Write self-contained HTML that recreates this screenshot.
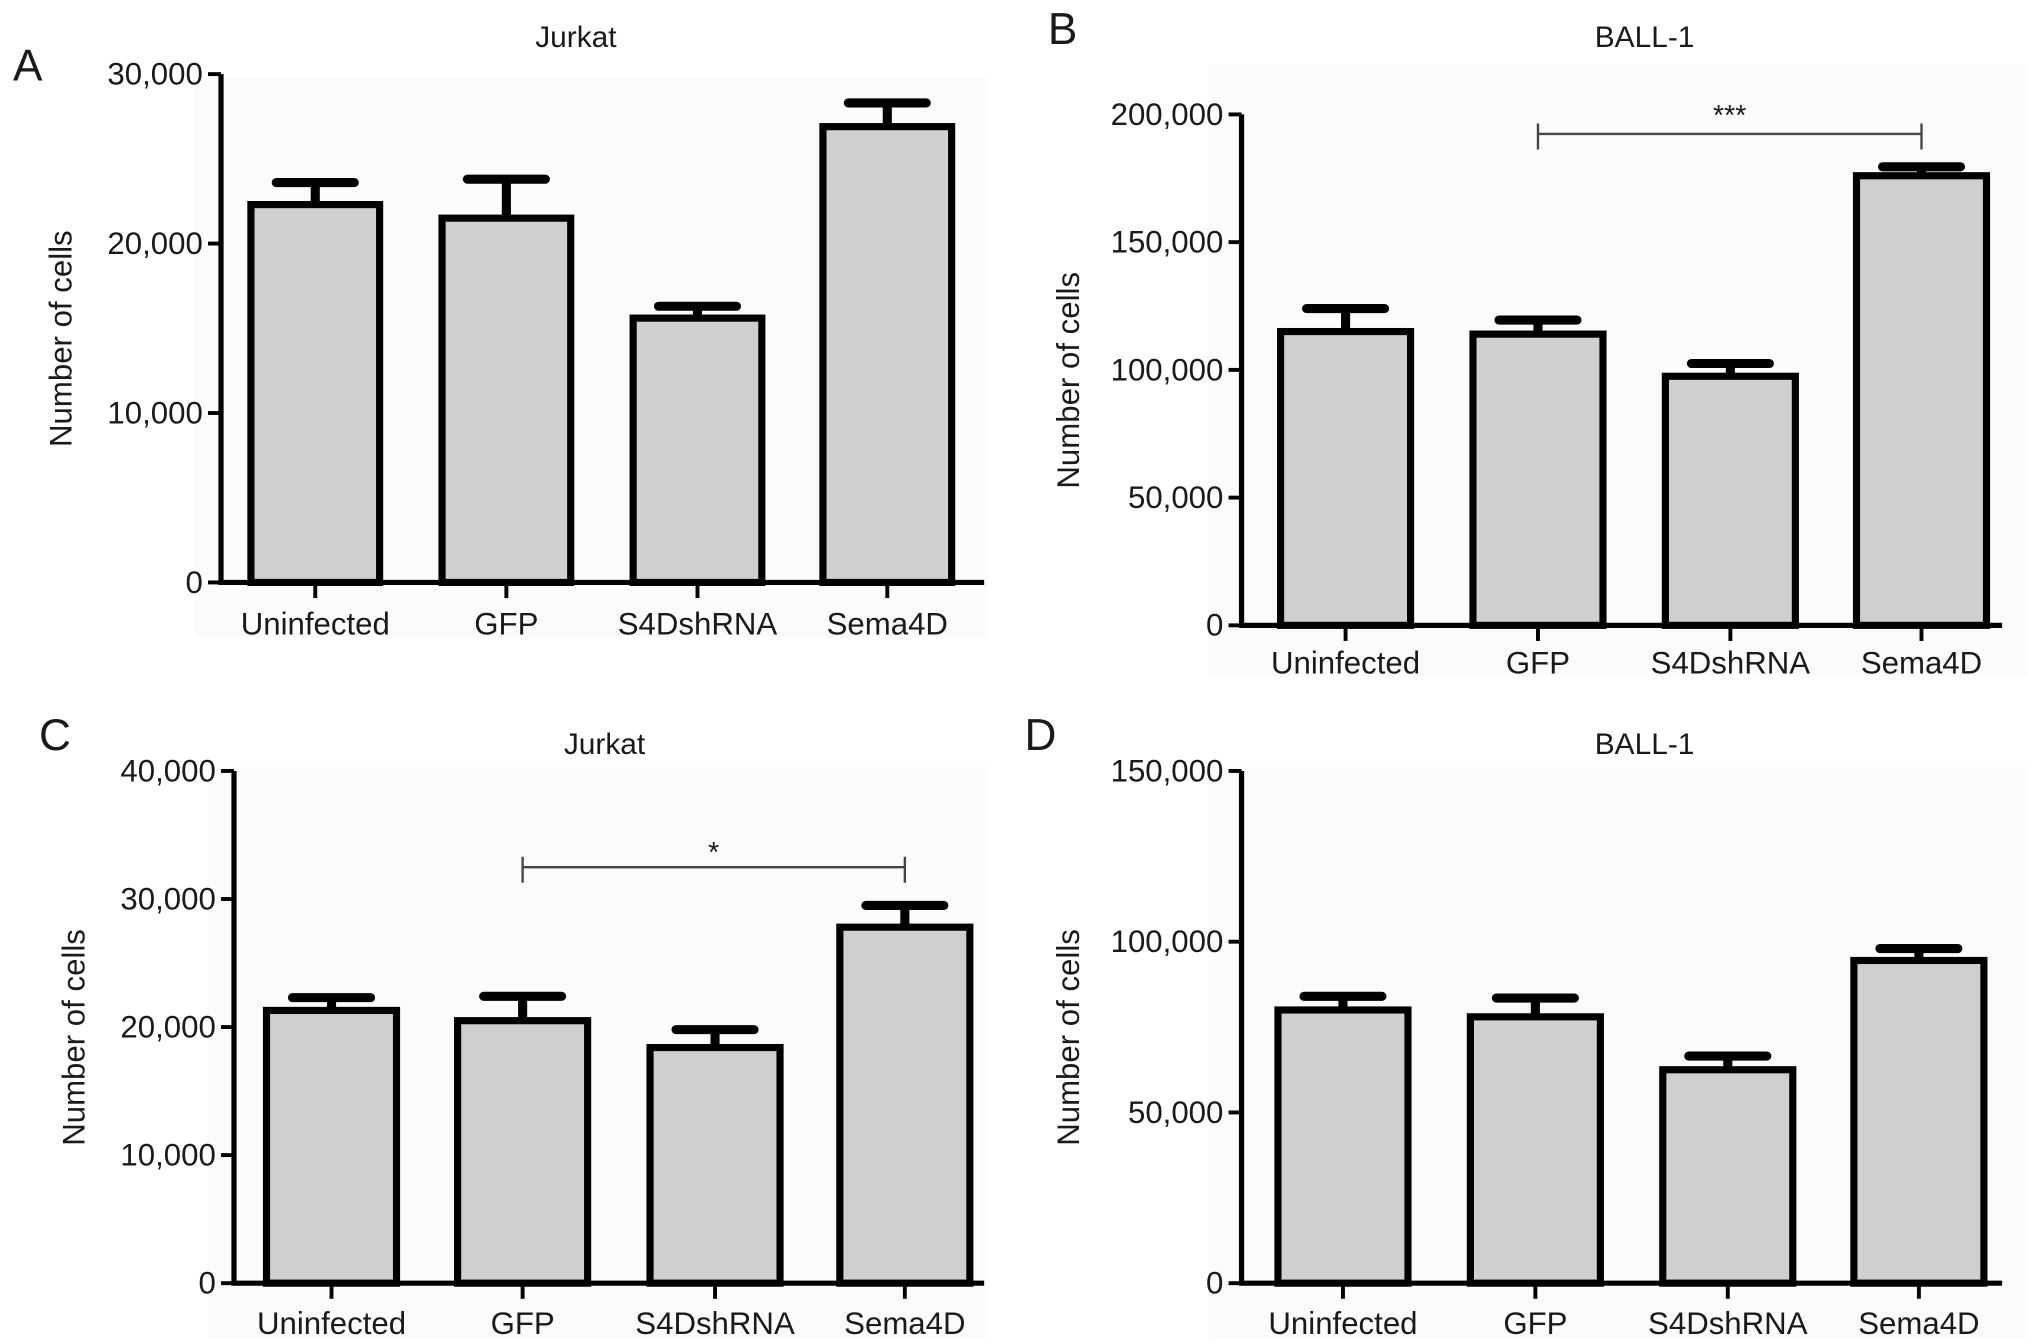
<!DOCTYPE html>
<html><head><meta charset="utf-8"><style>
html,body{margin:0;padding:0;background:#fff;width:2032px;height:1343px;overflow:hidden}
svg{display:block}
text{font-family:"Liberation Sans",Arial,sans-serif;fill:#1a1a1a}
</style></head><body>
<svg id="fig" width="2032" height="1343" viewBox="0 0 1563 1033" xmlns="http://www.w3.org/2000/svg"></svg>
<script>
const categories = ["Uninfected","GFP","S4DshRNA","Sema4D"];
const valuesA = [22300,21500,15600,26900];
const errorsA = [23600,23800,16300,28300];
const ticksA = [0,10000,20000,30000];
const valuesB = [115000,114000,97500,176000];
const errorsB = [124000,119500,102500,179500];
const ticksB = [0,50000,100000,150000,200000];
const valuesC = [21300,20500,18400,27800];
const errorsC = [22300,22400,19800,29500];
const ticksC = [0,10000,20000,30000,40000];
const valuesD = [80000,78000,62500,94500];
const errorsD = [84000,83500,66500,98000];
const ticksD = [0,50000,100000,150000];

const NS="http://www.w3.org/2000/svg";
const svg=document.getElementById('fig');
function mk(tag,attrs,parent,txt){const e=document.createElementNS(NS,tag);for(const k in attrs)e.setAttribute(k,attrs[k]);if(txt!==undefined)e.textContent=txt;(parent||svg).appendChild(e);return e;}
const fmt=v=>v.toLocaleString('en-US');

const panels=[
 {id:'a',letter:'A',lx:10,ly:62,title:'Jurkat',tx:443,ty:36,ax:170,x1:757,y0:448,yTop:57,max:30000,ticks:ticksA,vals:valuesA,errs:errorsA,bx:[193,340,487,633],bw:99,catY:488,ylx:55,bg:[150,60,610,430]},
 {id:'b',letter:'B',lx:806,ly:34,title:'BALL-1',tx:1265,ty:36,ax:955,x1:1540,y0:481,yTop:88,max:200000,ticks:ticksB,vals:valuesB,errs:errorsB,bx:[985,1133,1281,1428],bw:100,catY:518,ylx:830,bg:[930,50,630,470],sig:{a:1,b:3,y:103,lab:'***',ty:96}},
 {id:'c',letter:'C',lx:30,ly:577,title:'Jurkat',tx:465,ty:580,ax:180,x1:757,y0:987,yTop:593,max:40000,ticks:ticksC,vals:valuesC,errs:errorsC,bx:[205,352,500,646],bw:100,catY:1026,ylx:65,bg:[160,590,600,440],sig:{a:1,b:3,y:667,lab:'*',ty:663}},
 {id:'d',letter:'D',lx:788,ly:577,title:'BALL-1',tx:1265,ty:580,ax:955,x1:1540,y0:987,yTop:593,max:150000,ticks:ticksD,vals:valuesD,errs:errorsD,bx:[983,1131,1279,1426],bw:100,catY:1026,ylx:830,bg:[930,590,630,440]}
];

panels.forEach(p=>{
  const g=mk('g',{});
  
  
  const yS=v=>p.y0-(v/p.max)*(p.y0-p.yTop);
  const bg=mk('rect',{x:p.bg[0],y:p.bg[1],width:p.bg[2],height:p.bg[3],fill:'#fbfbfb'},g);
  
  
  const L=mk('text',{x:p.lx,y:p.ly,'font-size':34},g,p.letter);
  
  
  const T=mk('text',{x:p.tx,y:p.ty,'font-size':23,'text-anchor':'middle'},g,p.title);
  
  
  const yl=mk('text',{x:p.ylx,y:(p.y0+p.yTop)/2+8,'font-size':24,'text-anchor':'middle',transform:`rotate(-90 ${p.ylx} ${(p.y0+p.yTop)/2+8})`},g,'Number of cells');
  
  
  p.vals.forEach((v,i)=>{
    const x=p.bx[i],cx=x+p.bw/2,ey=yS(p.errs[i]),vy=yS(v);
    const eb=mk('path',{d:`M${cx} ${vy} V${ey} M${cx-30} ${ey} H${cx+30}`,stroke:'#000','stroke-width':7,'stroke-linecap':'round',fill:'none'},g);
    
    
    const r=mk('rect',{x:x,y:vy,width:p.bw,height:p.y0-vy,fill:'#cfcfcf',stroke:'#000','stroke-width':5.5},g);
    
    
    const tk=mk('line',{x1:cx,x2:cx,y1:p.y0,y2:p.y0+12,stroke:'#000','stroke-width':3},g);
    
    
    const cl=mk('text',{x:cx,y:p.catY,'font-size':24,'text-anchor':'middle'},g,categories[i]);
    
    
  });
  const ax=mk('path',{d:`M${p.ax} ${p.yTop} V${p.y0} H${p.x1}`,stroke:'#000','stroke-width':4,fill:'none'},g);
  
  
  p.ticks.forEach(t=>{
    const y=yS(t);
    const tl=mk('line',{x1:p.ax-10,x2:p.ax,y1:y,y2:y,stroke:'#000','stroke-width':3},g);
    
    
    const tt=mk('text',{x:p.ax-14,y:y+8,'font-size':24,'text-anchor':'end'},g,fmt(t));
    
    
  });
  if(p.sig){
    const xa=p.bx[p.sig.a]+p.bw/2,xb=p.bx[p.sig.b]+p.bw/2,y=p.sig.y;
    const br=mk('path',{d:`M${xa} ${y-8} V${y+12} M${xa} ${y} H${xb} M${xb} ${y-8} V${y+12}`,stroke:'#444','stroke-width':1.8,fill:'none'},g);
    
    
    const st=mk('text',{x:(xa+xb)/2,y:p.sig.ty,'font-size':22,'text-anchor':'middle',fill:'#444'},g,p.sig.lab);
    
    
  }
});
</script>
</body></html>
